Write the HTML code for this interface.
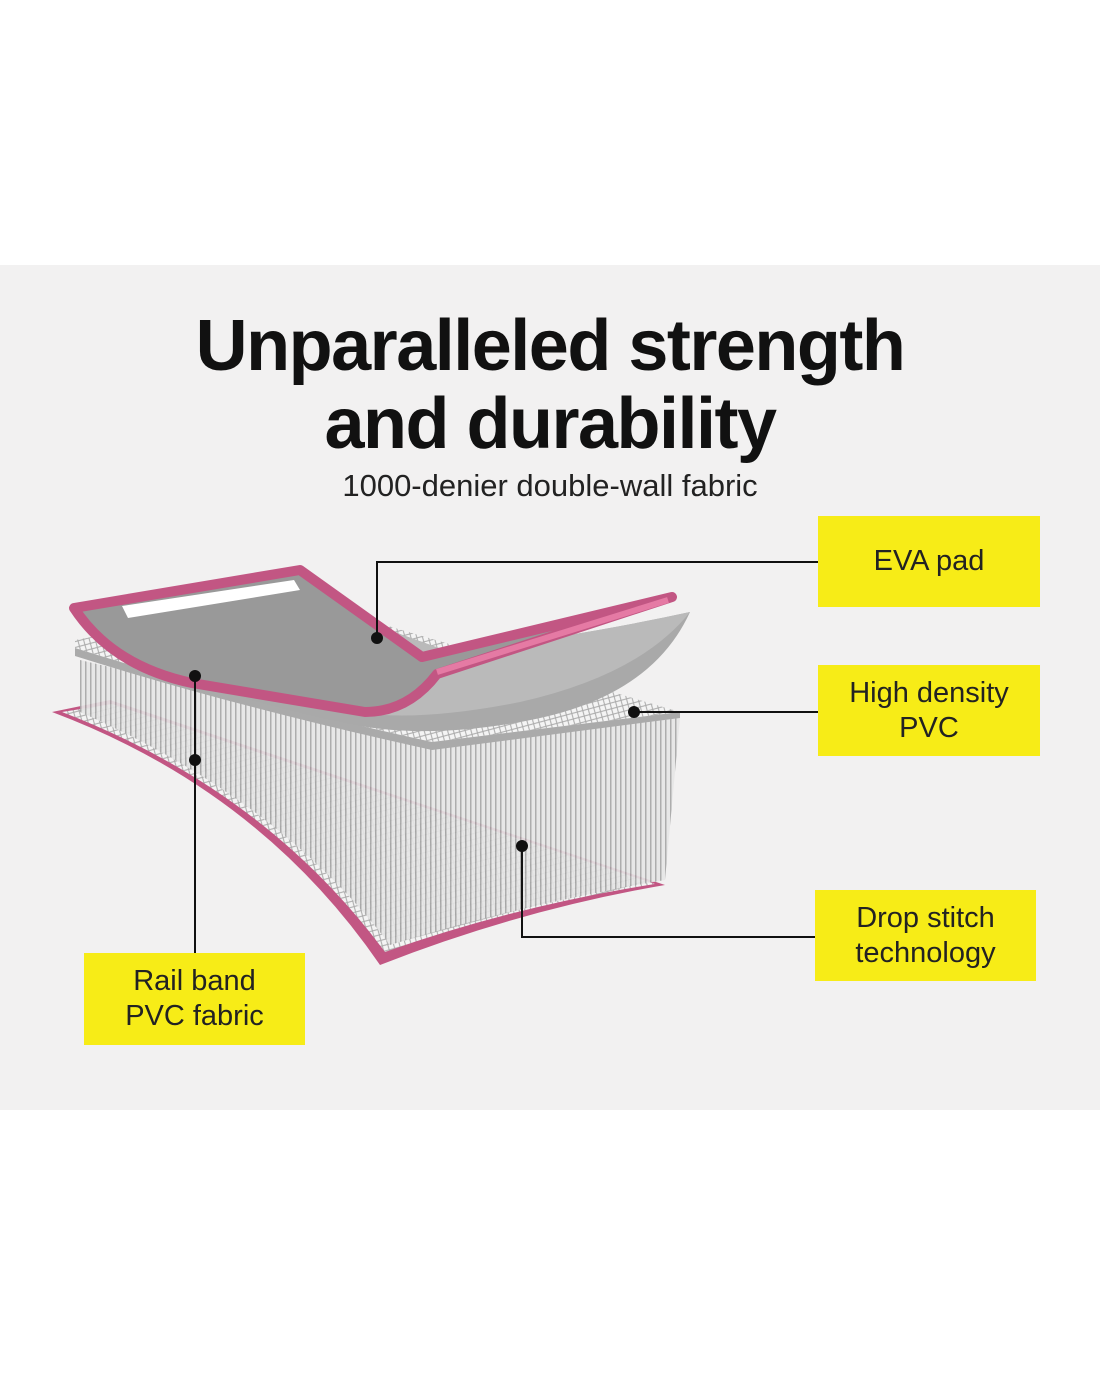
<!DOCTYPE html>
<html><head><style>
body{margin:0;width:1100px;height:1375px;background:#fff;position:relative;font-family:"Liberation Sans",sans-serif;overflow:hidden}
.panel{position:absolute;left:0;top:265px;width:1100px;height:845px;background:#f2f1f1}
.t{position:absolute;left:0;width:1100px;text-align:center;font-weight:bold;color:#111;font-size:72px;letter-spacing:-1.5px;line-height:80px}
.sub{position:absolute;left:0;width:1100px;text-align:center;top:468px;font-size:31px;color:#222}
.box{position:absolute;background:#f7ec17;color:#222;font-size:29px;display:flex;align-items:center;justify-content:center;text-align:center;line-height:35px}
</style></head><body>
<div class="panel"></div>
<div class="t" style="top:306px">Unparalleled strength</div>
<div class="t" style="top:384px">and durability</div>
<div class="sub">1000-denier double-wall fabric</div>
<svg width="1100" height="1375" style="position:absolute;left:0;top:0">
<defs>
<pattern id="mesh" width="8" height="8" patternUnits="userSpaceOnUse" patternTransform="rotate(30)">
<rect width="8" height="8" fill="#f4f4f4"/><path d="M0 0L8 8M8 0L0 8" stroke="#aaa" stroke-width="1"/></pattern>
<pattern id="needle" width="5" height="10" patternUnits="userSpaceOnUse"><rect width="5" height="10" fill="#e6e6e6"/><rect width="1.5" height="10" fill="#a5a5a5"/></pattern>
</defs>
<!-- bottom sheet -->
<path d="M52,712 L110,700 L665,885 Q520,910 380,965 Q260,790 52,712Z" fill="#c25683"/>
<path d="M62,712 L112,704 L655,884 Q515,906 385,952 Q265,790 62,712Z" fill="url(#mesh)"/>
<!-- needles -->
<path d="M80,660 Q250,700 430,748 L680,718 L665,880 Q520,905 390,945 Q280,800 80,712Z" fill="url(#needle)" opacity="0.9"/>
<!-- middle mesh -->
<path d="M75,640 L300,600 L680,712 L432,742 Q240,700 75,648Z" fill="url(#mesh)"/>
<path d="M75,648 Q240,700 432,742 L680,712 L680,718 L432,750 Q240,708 75,656Z" fill="#aaa"/>
<!-- gray pad -->
<path d="M105,632 L300,598 L450,652 Q580,636 690,612 Q650,700 520,722 Q430,738 360,726 Q200,695 105,640Z" fill="#a9a9a9"/>
<path d="M108,632 L300,598 L450,652 Q580,636 690,612 Q640,675 520,702 Q430,720 370,714 Q220,682 108,632Z" fill="#bababa"/>
<!-- top pink frame -->
<path d="M74,608 L300,570 L422,657 L672,597 L437,674 Q408,712 365,712 L192,683 Q112,666 74,608Z" fill="#999" stroke="#c25683" stroke-width="10" stroke-linejoin="round"/>
<path d="M122,606 L294,580 L300,590 L128,618Z" fill="#fff"/>
<path d="M437,672 L668,600" stroke="#e57aa4" stroke-width="6"/>
<!-- connectors -->
<g stroke="#111" stroke-width="2" fill="none">
<path d="M377,638 V562 H818"/><path d="M634,712 H818"/><path d="M522,846 V937 H815"/><path d="M195,676 V953"/>
</g>
<g fill="#111"><circle cx="377" cy="638" r="6"/><circle cx="634" cy="712" r="6"/><circle cx="522" cy="846" r="6"/><circle cx="195" cy="676" r="6"/><circle cx="195" cy="760" r="6"/></g>
</svg>
<div class="box" style="left:818px;top:516px;width:222px;height:91px">EVA pad</div>
<div class="box" style="left:818px;top:665px;width:222px;height:91px">High density<br>PVC</div>
<div class="box" style="left:815px;top:890px;width:221px;height:91px">Drop stitch<br>technology</div>
<div class="box" style="left:84px;top:953px;width:221px;height:92px">Rail band<br>PVC fabric</div>
</body></html>
